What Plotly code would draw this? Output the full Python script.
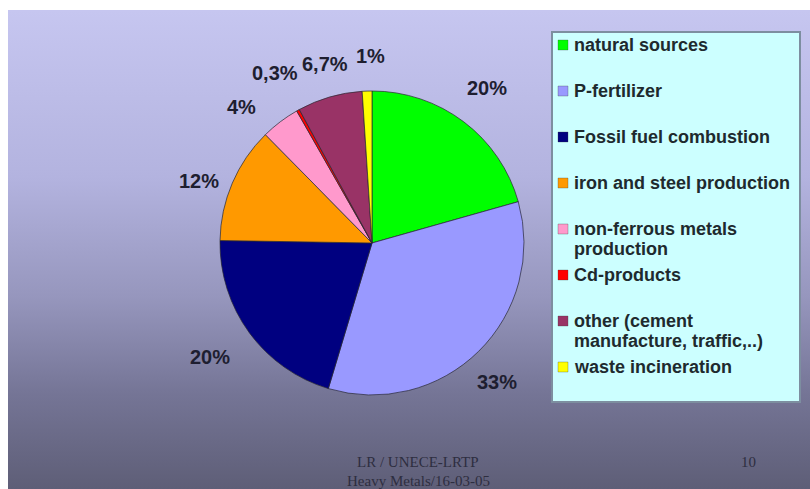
import base64
import math

import plotly.graph_objects as go

# ---- data -------------------------------------------------------------
categories = [
    "natural sources",
    "P-fertilizer",
    "Fossil fuel combustion",
    "iron and steel production",
    "non-ferrous metals\nproduction",
    "Cd-products",
    "other (cement\nmanufacture, traffic,..)",
    "waste incineration",
]
values = [20, 33, 20, 12, 4, 0.3, 6.7, 1]
colors = ["#00ff00", "#9999ff", "#000080", "#ff9900",
          "#ff99cc", "#ff0000", "#993366", "#ffff00"]
footer_left = ["LR / UNECE-LRTP", "Heavy Metals/16-03-05"]
footer_right = "10"

# ---- geometry (pixels) -------------------------------------------------
W, H = 810, 489
CX, CY, R = 372, 243, 152          # pie centre and radius

# label placement tweaks so the small slices' labels don't collide
label_angle_nudge = [-0.5, 2.5, 1.1, -3.5, -6.9, -0.6, 1.5, 1.3]   # degrees
label_radius = [1.27, 1.23, 1.30, 1.21, 1.24, 1.29, 1.22, 1.23]    # x R


def px(x):
    return x / W


def py(y):
    return 1 - y / H


def pct_text(v):
    return f"{v:g}".replace(".", ",") + "%"


fig = go.Figure()

fig.add_trace(go.Pie(
    values=values,
    labels=[c.replace("\n", " ") for c in categories],
    marker=dict(colors=colors, line=dict(color="rgba(40,40,50,0.7)", width=1)),
    sort=False,
    direction="clockwise",
    rotation=0,
    textinfo="none",
    showlegend=False,
    hoverinfo="label+percent",
    domain=dict(x=[px(CX - R), px(CX + R)], y=[py(CY + R), py(CY - R)]),
))

annotations = []
shapes = []

# percentage labels around the pie, near each slice's mid angle
total = sum(values)
cum = 0.0
for v, dang, rf in zip(values, label_angle_nudge, label_radius):
    mid = (cum + v / 2) / total * 2 * math.pi + math.radians(dang)
    cum += v
    lx = CX + rf * R * math.sin(mid)
    ly = CY - rf * R * math.cos(mid)
    annotations.append(dict(
        x=px(lx), y=py(ly), xref="paper", yref="paper",
        text=f"<b>{pct_text(v)}</b>", showarrow=False,
        xanchor="center", yanchor="middle",
        font=dict(family="Liberation Sans, Arial", size=20, color="#1e1e30"),
    ))

# legend box
LX0, LY0, LX1, LY1 = 552, 32, 800, 402
shapes.append(dict(
    type="rect", xref="paper", yref="paper",
    x0=px(LX0), x1=px(LX1), y0=py(LY1), y1=py(LY0),
    fillcolor="#ccffff", line=dict(color="#7d8ea0", width=2), layer="above",
))

ROW0, ROW_STEP, LINE_STEP = 45, 46, 19.5
for i, (name, col) in enumerate(zip(categories, colors)):
    yc = ROW0 + i * ROW_STEP
    shapes.append(dict(
        type="rect", xref="paper", yref="paper",
        x0=px(558), x1=px(568), y0=py(yc + 5), y1=py(yc - 5),
        fillcolor=col, line=dict(color="rgba(60,60,60,0.6)", width=0.5),
        layer="above",
    ))
    for j, line in enumerate(name.split("\n")):
        annotations.append(dict(
            x=px(572), y=py(yc + j * LINE_STEP), xref="paper", yref="paper",
            text=f"<b>{line}</b>", showarrow=False,
            xanchor="left", yanchor="middle",
            font=dict(family="Liberation Sans, Arial", size=18, color="#1e2a2e"),
        ))

# slide footer
footer_font = dict(family="Liberation Serif, Times New Roman", size=15, color="#2e2e40")
for j, line in enumerate(footer_left):
    annotations.append(dict(
        x=px(418), y=py(462 + j * 19), xref="paper", yref="paper",
        text=line, showarrow=False, xanchor="center", yanchor="middle",
        font=footer_font,
    ))
annotations.append(dict(
    x=px(748), y=py(462), xref="paper", yref="paper",
    text=footer_right, showarrow=False, xanchor="center", yanchor="middle",
    font=footer_font,
))

# slide background: vertical lavender-to-slate gradient
svg = (
    '<svg xmlns="http://www.w3.org/2000/svg" width="802" height="479" '
    'preserveAspectRatio="none" viewBox="0 0 802 479">'
    '<defs><linearGradient id="g" x1="0" y1="0" x2="0" y2="1">'
    '<stop offset="0" stop-color="#c6c6f0"/>'
    '<stop offset="0.35" stop-color="#b3b3df"/>'
    '<stop offset="0.6" stop-color="#9696bd"/>'
    '<stop offset="0.8" stop-color="#757596"/>'
    '<stop offset="1" stop-color="#5e5e77"/>'
    '</linearGradient></defs>'
    '<rect x="0" y="0" width="802" height="479" fill="url(#g)"/></svg>'
)
bg_src = "data:image/svg+xml;base64," + base64.b64encode(svg.encode()).decode()

fig.update_layout(
    width=W, height=H,
    margin=dict(l=0, r=0, t=0, b=0),
    paper_bgcolor="white",
    plot_bgcolor="rgba(0,0,0,0)",
    showlegend=False,
    annotations=annotations,
    shapes=shapes,
    images=[dict(
        source=bg_src, xref="paper", yref="paper",
        x=px(8), y=py(10), sizex=802 / W, sizey=479 / H,
        xanchor="left", yanchor="top", sizing="stretch", layer="below",
    )],
)

fig.write_html("out.html")
